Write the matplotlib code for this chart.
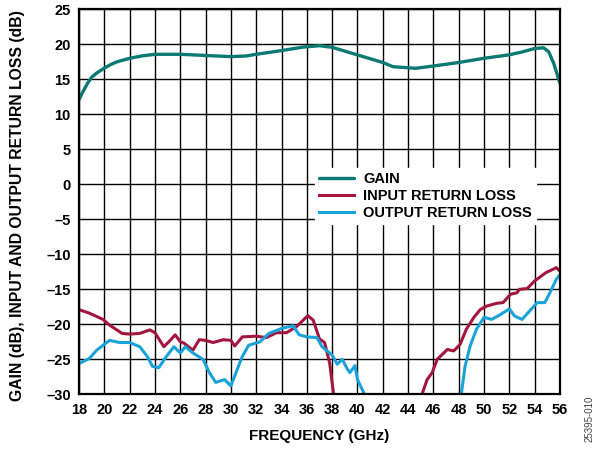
import matplotlib
matplotlib.use("Agg")
import matplotlib.pyplot as plt

plt.rcParams['font.family'] = ['Liberation Sans', 'DejaVu Sans']

gain_f = [18, 18.3, 18.7, 19.0, 19.4, 20, 20.5, 21, 22, 23, 24, 26, 28, 30, 31.2, 32, 34, 35.7, 37, 38, 40,
          42, 42.8, 44.6, 46, 48, 50, 52, 53, 54, 54.7, 55.1, 55.5, 56]
gain_db = [12.1, 13.2, 14.5, 15.3, 15.9, 16.6, 17.1, 17.5, 18.0, 18.35, 18.57, 18.57, 18.4, 18.24, 18.33,
           18.57, 19.1, 19.6, 19.8, 19.57, 18.48, 17.4, 16.8, 16.57, 16.9, 17.4, 18.0, 18.5, 18.9, 19.4,
           19.5, 18.95, 17.3, 14.4]

in_f1 = [18, 18.8, 19.9, 20.4, 21.4, 22, 22.8, 23.6, 24, 24.7, 25.1, 25.6, 26, 26.3, 27, 27.5, 28, 28.6,
         29.4, 30, 30.3, 30.9, 32, 32.8, 33.6, 34.4, 35.2, 36, 36.1, 36.5, 37, 37.4, 37.8, 38.1, 38.3]
in_db1 = [-17.9, -18.4, -19.3, -20.1, -21.3, -21.4, -21.3, -20.8, -21.2, -23.2, -22.5, -21.5, -22.5, -22.7,
          -23.7, -22.2, -22.3, -22.6, -22.2, -22.3, -23.1, -21.8, -21.7, -21.9, -21.2, -21.2, -20.3, -18.9,
          -18.8, -19.4, -22.1, -22.6, -25.5, -29.8, -31.0]
in_f2 = [44.9, 45.1, 45.5, 45.9, 46.3, 47.1, 47.6, 48.1, 48.6, 49.2, 49.7, 50.2, 51, 51.5, 52.1, 52.6, 52.8,
         53.4, 54, 54.9, 55.5, 55.7, 56]
in_db2 = [-31.0, -30.0, -27.9, -26.9, -25.0, -23.6, -23.8, -22.9, -20.7, -19.0, -17.9, -17.4, -17.0, -16.9,
          -15.7, -15.5, -15.0, -14.9, -13.8, -12.6, -12.1, -11.9, -12.4]

out_f1 = [18, 18.8, 19.4, 20.4, 21.2, 22, 22.8, 23.4, 23.8, 24.3, 24.9, 25.5, 26, 26.4, 27, 27.8, 28.3, 28.8,
          29.5, 30, 30.4, 30.9, 31.4, 32.3, 33, 34, 34.9, 35.4, 36, 36.8, 37.2, 38, 38.4, 38.8, 39.2, 39.4,
          39.8, 40, 40.5, 40.7]
out_db1 = [-25.6, -24.9, -23.7, -22.3, -22.6, -22.6, -23.2, -24.6, -26.0, -26.2, -24.6, -23.2, -24.1, -23.2,
           -24.1, -25.0, -26.9, -28.3, -27.9, -28.8, -26.9, -24.6, -23.0, -22.5, -21.3, -20.6, -20.2, -21.5,
           -21.8, -21.9, -23.2, -24.4, -25.7, -25.0, -26.4, -26.9, -25.9, -27.9, -29.8, -31.0]
out_f2 = [48.1, 48.2, 48.5, 48.9, 49.4, 50, 50.6, 51.3, 52, 52.4, 53, 53.6, 54.2, 54.8, 55.2, 55.7, 56]
out_db2 = [-31.0, -30.0, -26.0, -23.1, -20.7, -19.0, -19.3, -18.6, -17.8, -18.8, -19.3, -18.1, -16.9, -16.9,
           -15.5, -13.6, -12.9]

x_ticks = list(range(18, 57, 2))
y_ticks = list(range(-30, 26, 5))

c_gain = '#0b7a72'
c_in = '#a3163f'
c_out = '#1aa3d9'

fig = plt.figure(figsize=(5.99, 4.51), dpi=100)
ax = fig.add_axes([0.1319, 0.1257, 0.8030, 0.8537])

ax.plot(gain_f, gain_db, color=c_gain, lw=2.4, label='GAIN', solid_capstyle='round')
ax.plot(in_f1, in_db1, color=c_in, lw=2.2, label='INPUT RETURN LOSS')
ax.plot(in_f2, in_db2, color=c_in, lw=2.2)
ax.plot(out_f1, out_db1, color=c_out, lw=2.2, label='OUTPUT RETURN LOSS')
ax.plot(out_f2, out_db2, color=c_out, lw=2.2)

ax.set_xlim(18, 56)
ax.set_ylim(-30, 25)
ax.set_xticks(x_ticks)
ax.set_yticks(y_ticks)
ax.set_yticklabels([str(v).replace('-', '\u2013') for v in y_ticks])
ax.grid(True, color='black', lw=1.0)
ax.set_axisbelow(True)
ax.tick_params(length=0, labelsize=10.5, pad=6)
for lab in ax.get_xticklabels() + ax.get_yticklabels():
    lab.set_fontweight('bold')
for s in ax.spines.values():
    s.set_linewidth(1.6)

ax.set_xlabel('FREQUENCY (GHz)', fontsize=11, fontweight='bold', labelpad=9)
ax.set_ylabel('GAIN (dB), INPUT AND OUTPUT RETURN LOSS (dB)', fontsize=11.3, fontweight='bold', labelpad=9)
ax.yaxis.set_label_coords(-0.112, 0.49)

leg = ax.legend(loc='upper left', bbox_to_anchor=(0.475, 0.607), frameon=True, fancybox=False,
                edgecolor='white', framealpha=1, handlelength=2.4, handletextpad=0.6,
                labelspacing=0.2, borderpad=0.3, prop={'weight': 'bold', 'size': 10.5})

fig.text(0.985, 0.072, '25395-010', rotation=90, fontsize=7, color='#444444', ha='center', va='center')

fig.savefig('out.png', dpi=100)
